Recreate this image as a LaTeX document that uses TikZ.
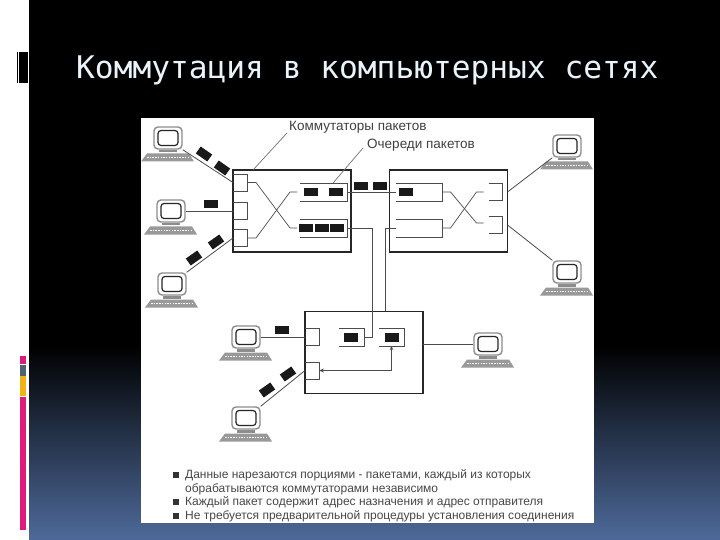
\documentclass[tikz,border=0pt]{standalone}
\usepackage{fontspec}
\setmainfont{Liberation Sans}
\newfontfamily\titlefont{DejaVu Sans Mono}
\usetikzlibrary{arrows.meta,positioning}
\definecolor{SlideBlue}{RGB}{78,106,154}
\definecolor{SlidePink}{RGB}{222,26,122}
\definecolor{SlideGray}{RGB}{78,98,112}
\definecolor{SlideGold}{RGB}{240,180,20}
\definecolor{TitleInk}{RGB}{232,244,250}
\definecolor{PackInk}{RGB}{25,25,25}
\tikzset{
  swbox/.style={draw=black!85,line width=1.1pt,fill=white,minimum width=118pt,minimum height=82pt,inner sep=0pt,outer sep=0pt},
  portbox/.style={minimum width=14pt,minimum height=17pt,inner sep=0pt,outer sep=0pt},
  queuebox/.style={minimum width=47pt,minimum height=18pt,inner sep=0pt,outer sep=0pt},
  shortq/.style={minimum width=25pt,minimum height=18pt,inner sep=0pt,outer sep=0pt},
  packet/.style={fill=PackInk,minimum width=14pt,minimum height=8.5pt,inner sep=0pt,outer sep=0pt},
  brk/.style={draw=black!70,line width=0.7pt},
  link/.style={draw=black!70,line width=0.8pt},
  lead/.style={draw=black!55,line width=0.7pt},
  lab/.style={anchor=west,text=black!75,inner sep=0pt,font=\fontsize{13.5}{15}\selectfont},
  note/.style={anchor=west,text=black!72,inner sep=0pt,font=\fontsize{12}{14}\selectfont},
  dot/.style={fill=black!80,minimum size=6pt,inner sep=0pt},
  monitor/.style={draw=black!45,line width=1.4pt,fill=white,rounded corners=4pt,minimum width=28pt,minimum height=22pt,inner sep=0pt},
  host/.pic={
    \node[monitor] (-mon) at (0,0) {};
    \draw[black!85,line width=1.2pt,rounded corners=3pt] (-10,-7.5) rectangle (10,7.5);
    \fill[black!45] (-9,12) rectangle (9,14.5);
    \fill[black!40] (-21,15.5) -- (21,15.5) -- (26,23.5) -- (-27,23.5) -- cycle;
    \draw[white,line width=0.9pt,dash pattern=on 1.5pt off 1.2pt] (-21,19.5) -- (22,19.5);
  },
}
\begin{document}
\begin{tikzpicture}[x=1pt,y=-1pt]
  \useasboundingbox (0,0) rectangle (720,540);
  % slide
  \fill[white] (0,0) rectangle (720,540);
  \fill[black] (29,0) rectangle (720,345);
  \shade[top color=black,bottom color=SlideBlue] (29,345) rectangle (720,540);
  \fill[black] (17,52) rectangle (27.5,83);
  \fill[white] (18.2,52) rectangle (19.2,83);
  \fill[SlidePink] (19.5,356) rectangle (26,364);
  \fill[SlideGray] (19.5,365) rectangle (26,376);
  \fill[SlideGold] (19.5,376) rectangle (26,396);
  \fill[SlidePink] (19.5,397) rectangle (26,530);
  \node[anchor=west,inner sep=0pt,text=TitleInk,font=\titlefont\fontsize{31.2}{36}\selectfont] (title) at (76,70) {Коммутация в компьютерных сетях};
  \fill[white] (141,118) rectangle (594,523);

  \node[swbox] (swa) at (292,211) {};
  \node[swbox] (swb) at (448.5,211) {};
  \node[swbox] (swc) at (364,352.5) {};

  \node[portbox] (pa1) at (240,182.5) {};
  \node[portbox] (pa2) at (240,211) {};
  \node[portbox] (pa3) at (240,238) {};
  \node[queuebox] (qa1) at (323.5,192) {};
  \node[queuebox] (qa2) at (323.5,228) {};
  \node[queuebox] (qb1) at (419,192) {};
  \node[queuebox] (qb2) at (419,228) {};
  \node[portbox] (pb1) at (495.5,192) {};
  \node[portbox] (pb2) at (495.5,225) {};
  \node[portbox] (pc1) at (312,337) {};
  \node[portbox] (pc2) at (312,370.5) {};
  \node[shortq] (qc1) at (351.5,337) {};
  \node[shortq] (qc2) at (391.5,337) {};
  \foreach \n in {pa1,pa2,pa3,qa1,qa2,qb1,qb2,pb1,pb2,pc1,pc2,qc1,qc2}
    \draw[brk] (\n.north west) -| (\n.south east) -- (\n.south west);

  % crossing inside the switches
  \draw[brk] (pa1.east) -- ++(9,0) -- ([xshift=-10]qa2.west) -- ([xshift=-3]qa2.west);
  \draw[brk] (pa3.east) -- ++(9,0) -- ([xshift=-10]qa1.west) -- ([xshift=-3]qa1.west);
  \draw[brk] (qb1.east) -- ++(8,0) -- ([xshift=-12,yshift=2]pb2.west) -- ([xshift=-5,yshift=2]pb2.west);
  \draw[brk] (qb2.east) -- ++(8,0) -- ([xshift=-12]pb1.west) -- ([xshift=-5]pb1.west);

  \coordinate (turna) at (372,337);
  \coordinate (turnb) at (385,311);
  \draw[link] (qa1.east) -- (qb1.west);
  \draw[link] (qa2.east) -| (turna) -- (qc1.east);
  \draw[link] (qb2.west) -| (turnb);
  \draw[link,{Stealth[length=4pt,width=3.5pt]}-{Stealth[open,length=5pt,width=4pt]}] (qc2.south) |- (pc2.east);

  \pic (ha) at (168,138) {host};
  \pic (hb) at (171,211) {host};
  \pic (hc) at (172,284) {host};
  \pic (hd) at (567,146) {host};
  \pic (he) at (567,272) {host};
  \pic (hf) at (246,337) {host};
  \pic (hg) at (246,418) {host};
  \pic (hh) at (488,344) {host};

  \draw[link] (ha-mon.south east) -- (pa1.west);
  \draw[link] (hb-mon.east) -- (pa2.west);
  \draw[link] (hc-mon.north east) -- (pa3.west);
  \draw[link] (hd-mon.south west) -- (pb1.east -| swb.east);
  \draw[link] (he-mon.north west) -- (pb2.east -| swb.east);
  \draw[link] (hf-mon.east) -- (pc1.west);
  \draw[link] (hg-mon.north east) -- (pc2.west);
  \draw[link] (swc.east |- hh-mon.west) -- (hh-mon.west);

  \node[packet,rotate=-35] (pka) at (204,154) {};
  \node[packet,rotate=-35] (pkb) at (222,168) {};
  \node[packet] (pkc) at (210.5,204) {};
  \node[packet,rotate=35] (pkd) at (216,242) {};
  \node[packet,rotate=35] (pke) at (194,258) {};
  \node[packet] (pkf) at (311,192) {};
  \node[packet] (pkg) at (336,192) {};
  \node[packet] (pkh) at (305.5,228) {};
  \node[packet] (pki) at (322,228) {};
  \node[packet] (pkj) at (336.5,228) {};
  \node[packet] (pkk) at (361,186) {};
  \node[packet] (pkl) at (380,186) {};
  \node[packet] (pkm) at (406,192) {};
  \node[packet] (pkn) at (282,330) {};
  \node[packet,rotate=35] (pko) at (288,374) {};
  \node[packet,rotate=35] (pkp) at (267,390) {};
  \node[packet] (pkq) at (350.5,337.5) {};
  \node[packet] (pkr) at (391.5,337.5) {};

  \node[lab] (laba) at (289,127) {Коммутаторы пакетов};
  \node[lab] (labb) at (367,145) {Очереди пакетов};
  \coordinate (tipa) at (287,133);
  \coordinate (tipb) at (363,148);
  \coordinate (roota) at (253,170);
  \coordinate (rootb) at (333,183);
  \draw[lead] (roota) -- (tipa);
  \draw[lead] (rootb) -- (tipb);

  \node[dot] (dota) at (175.5,475) {};
  \node[dot] (dotb) at (175.5,502) {};
  \node[dot] (dotc) at (175.5,516) {};
  \node[note] (nota) at (185,475) {Данные нарезаются порциями - пакетами, каждый из которых};
  \node[note] (notb) at (185,489) {обрабатываются коммутаторами независимо};
  \node[note] (notc) at (185,502) {Каждый пакет содержит адрес назначения и адрес отправителя};
  \node[note] (notd) at (185,516) {Не требуется предварительной процедуры установления соединения};
\end{tikzpicture}
\end{document}
